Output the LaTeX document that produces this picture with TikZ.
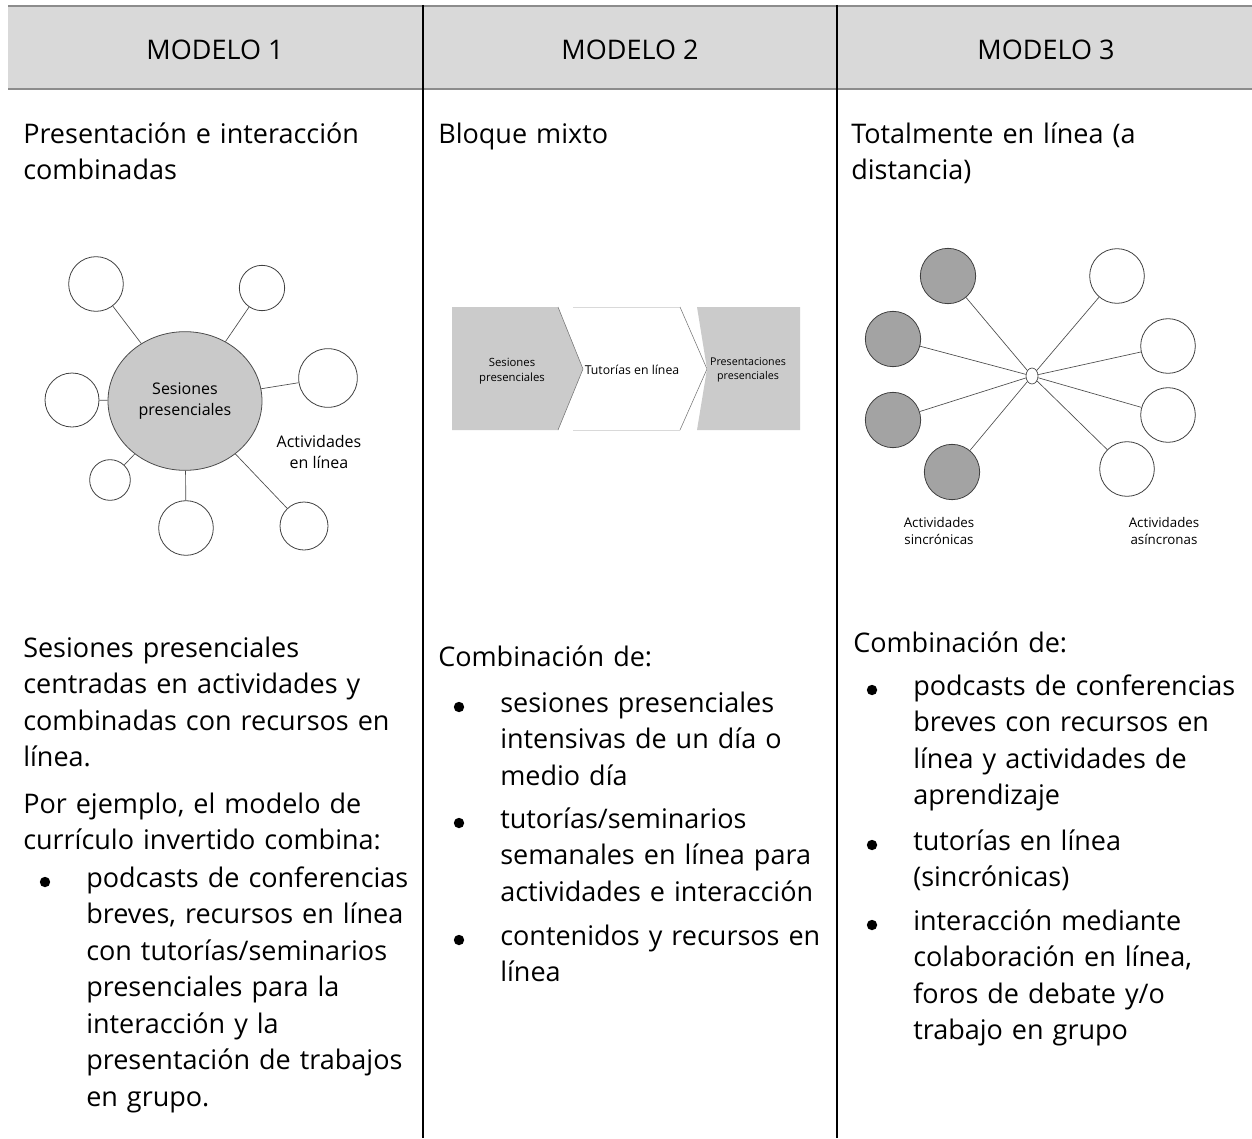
\documentclass[tikz,border=0pt]{standalone}
\usepackage{fontspec}
\setmainfont{Open Sans}
\usepackage{tikz}
\usetikzlibrary{positioning,shapes.geometric}
\definecolor{headgray}{HTML}{D9D9D9}
\definecolor{rulegray}{HTML}{8C8C8C}
\definecolor{hubgray}{HTML}{C9C9C9}
\definecolor{syncgray}{HTML}{A3A3A3}
\definecolor{chevgray}{HTML}{CBCBCB}
\newcommand{\bodyfont}{\fontsize{20.25pt}{27.4pt}\selectfont}
\tikzstyle{table rule}=[draw=rulegray,line width=1.9pt]
\tikzstyle{column rule}=[draw=black,line width=1.9pt]
\tikzstyle{spoke edge}=[draw=black!70,line width=0.5pt]
\tikzstyle{head text}=[anchor=center,inner sep=0pt,font=\bodyfont]
\tikzstyle{body text}=[anchor=base west,align=left,inner sep=0pt,text width=280pt,font=\bodyfont]
\tikzstyle{item text}=[body text,text width=250pt]
\tikzstyle{item dot}=[circle,fill=black,inner sep=0pt,minimum size=7.8pt]
\tikzstyle{bubble}=[circle,draw=black!75,fill=white,line width=0.6pt,inner sep=0pt]
\tikzstyle{chevron}=[draw=black!55,line width=0.4pt]
\newcommand{\bubblenode}[4][]{
  \node [bubble, minimum size=#4, #1] (#2) at #3 {}
}
\newcommand{\itemnode}[3]{
  \node [item text] (#1) at #2 {#3};
  \node [item dot] (#1 dot) at ([shift={(-41,-5)}]#1.base west) {}
}

\begin{document}
\begin{tikzpicture}[x=0.75pt,y=-0.75pt]
  \useasboundingbox (0,0) rectangle (1252,1138);

  % header row
  \fill[headgray] (8,6) rectangle (1252,89);
  \draw[table rule] (8,6) -- (1252,6);
  \draw[table rule] (8,89) -- (1252,89);
  \draw[column rule] (423,5) -- (423,1138);
  \draw[column rule] (837,5) -- (837,1138);

  \node[head text] (modelo1) at (215,50) {MODELO 1};
  \node[head text] (modelo2) at (630,50) {MODELO 2};
  \node[head text] (modelo3) at (1046,50) {MODELO 3};

  % titles
  \node[body text] (titulo1) at (23,143) {Presentación e interacción\\combinadas};
  \node[body text] (titulo2) at (438,143) {Bloque mixto};
  \node[body text] (titulo3) at (851,143) {Totalmente en línea (a\\distancia)};

  % modelo 1: hub and spokes
  \node[ellipse,draw=black!70,fill=hubgray,line width=0.6pt,minimum width=115.5pt,
        minimum height=104pt,align=center,font=\fontsize{12pt}{16pt}\selectfont]
        (sesiones) at (185,401) {Sesiones\\presenciales};
  \bubblenode{a1}{(96,284)}{41pt};
  \bubblenode{a2}{(262,288)}{34pt};
  \bubblenode{a3}{(72,400)}{40.5pt};
  \bubblenode{a4}{(328,378)}{44pt};
  \bubblenode{a5}{(110,480)}{30.5pt};
  \bubblenode{a6}{(186,528)}{41pt};
  \bubblenode{a7}{(304,526)}{36pt};
  \foreach \n in {a1,a2,a3,a4,a5,a6,a7}
    \draw[spoke edge] (sesiones) -- (\n);
  \node[align=center,inner sep=0pt,font=\fontsize{12pt}{16.3pt}\selectfont]
        (enlinea) at (319,452) {Actividades\\en línea};

  % modelo 2: chevrons
  \fill[chevgray] (452,307) -- (558,307) -- (583,369) -- (558,430) -- (452,430) -- cycle;
  \draw[chevron] (558,307) -- (583,369) -- (558,430);
  \draw[draw=black!15,line width=0.4pt] (573,307) -- (680,307) (573,430) -- (680,430);
  \draw[chevron] (680,307) -- (707,369) -- (680,430);
  \fill[chevgray] (697,307) -- (800,307) -- (800,430) -- (697,430) -- (707,369) -- cycle;
  \node[align=center,inner sep=0pt,font=\fontsize{8.5pt}{11.5pt}\selectfont]
        (bloque1) at (512,371) {Sesiones\\presenciales};
  \node[align=center,inner sep=0pt,font=\fontsize{9.2pt}{12pt}\selectfont]
        (bloque2) at (632,370) {Tutorías en línea};
  \node[align=center,inner sep=0pt,font=\fontsize{8pt}{11pt}\selectfont]
        (bloque3) at (748,370) {Presentaciones\\presenciales};

  % modelo 3: star of activities
  \node[ellipse,draw=black!75,fill=white,line width=0.5pt,inner sep=0pt,
        minimum width=9pt,minimum height=12pt] (centro) at (1032,376) {};
  \bubblenode[fill=syncgray]{s1}{(948,276)}{41.5pt};
  \bubblenode[fill=syncgray]{s2}{(893,339)}{41.5pt};
  \bubblenode[fill=syncgray]{s3}{(893,420)}{41.5pt};
  \bubblenode[fill=syncgray]{s4}{(952,472)}{41.5pt};
  \bubblenode{as1}{(1117,276)}{41pt};
  \bubblenode{as2}{(1168,346)}{41pt};
  \bubblenode{as3}{(1168,415)}{41pt};
  \bubblenode{as4}{(1127,469)}{41pt};
  \foreach \n in {s1,s2,s3,s4,as1,as2,as3,as4}
    \draw[spoke edge] (centro) -- (\n);
  \node[align=center,inner sep=0pt,font=\fontsize{10pt}{12.75pt}\selectfont]
        (sincronas) at (939,531) {Actividades\\sincrónicas};
  \node[align=center,inner sep=0pt,font=\fontsize{10pt}{12.75pt}\selectfont]
        (asincronas) at (1164,531) {Actividades\\asíncronas};

  % modelo 1: text
  \node[body text] (m1p1) at (23,657) {Sesiones presenciales\\centradas en actividades y\\combinadas con recursos en\\línea.};
  \node[body text] (m1p2) at (23,813) {Por ejemplo, el modelo de\\currículo invertido combina:};
  \itemnode{m1i1}{(86,887)}{podcasts de conferencias\\breves, recursos en línea\\con tutorías/seminarios\\presenciales para la\\interacción y la\\presentación de trabajos\\en grupo.};

  % modelo 2: text
  \node[body text] (m2p1) at (438,666) {Combinación de:};
  \itemnode{m2i1}{(500,712)}{sesiones presenciales\\intensivas de un día o\\medio día};
  \itemnode{m2i2}{(500,828)}{tutorías/seminarios\\semanales en línea para\\actividades e interacción};
  \itemnode{m2i3}{(500,945)}{contenidos y recursos en\\línea};

  % modelo 3: text
  \node[body text] (m3p1) at (853,652) {Combinación de:};
  \itemnode{m3i1}{(913,695)}{podcasts de conferencias\\breves con recursos en\\línea y actividades de\\aprendizaje};
  \itemnode{m3i2}{(913,850)}{tutorías en línea\\(sincrónicas)};
  \itemnode{m3i3}{(913,930)}{interacción mediante\\colaboración en línea,\\foros de debate y/o\\trabajo en grupo};
\end{tikzpicture}
\end{document}
